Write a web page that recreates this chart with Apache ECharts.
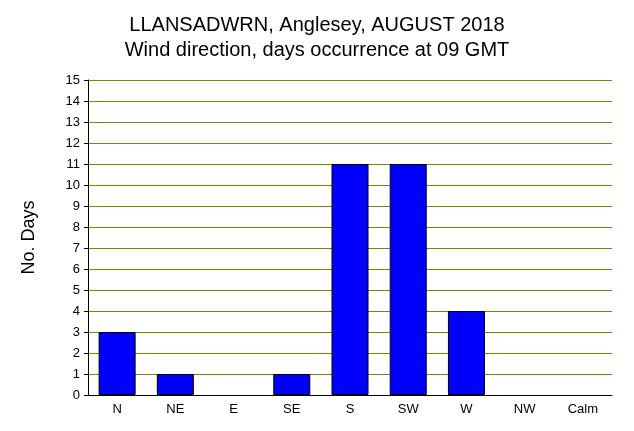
<!DOCTYPE html>
<html><head><meta charset="utf-8">
<script src="https://cdn.jsdelivr.net/npm/echarts@6/dist/echarts.min.js"></script>
<style>html,body{margin:0;padding:0;background:#fff}#c{width:634px;height:431px}</style>
</head><body><div id="c"></div>
<script>
const categories = ['N','NE','E','SE','S','SW','W','NW','Calm'];
const days = [3,1,0,1,11,11,4,0,0];
const titleLines = ['LLANSADWRN, Anglesey, AUGUST 2018','Wind direction, days occurrence at 09 GMT'];
const chart = echarts.init(document.getElementById('c'));
chart.setOption({
  animation:false,
  backgroundColor:'#fff',
  title:{text:titleLines.join('\n'),left:'center',top:8,
    textStyle:{fontFamily:'Liberation Sans',fontSize:20,fontWeight:'normal',color:'#000',lineHeight:25}},
  grid:{left:88,right:22,top:80,bottom:36},
  xAxis:{type:'category',data:categories,
    axisLine:{lineStyle:{color:'#000'}},axisTick:{show:false},
    axisLabel:{color:'#000',fontFamily:'Liberation Sans',fontSize:13,margin:8}},
  yAxis:{type:'value',min:0,max:15,interval:1,
    name:'No. Days',nameLocation:'middle',nameGap:50,nameRotate:90,
    nameTextStyle:{fontFamily:'Liberation Sans',fontSize:18,color:'#000'},
    axisLine:{show:true,lineStyle:{color:'#000'}},axisTick:{show:true,length:4,lineStyle:{color:'#000'}},
    axisLabel:{color:'#000',fontFamily:'Liberation Sans',fontSize:13,margin:8},
    splitLine:{lineStyle:{color:'#5f9400',width:1}}},
  series:[{type:'bar',data:days.map(v=>v===0?'-':v),barWidth:37,
    itemStyle:{color:'#0000ff',borderColor:'#000',borderWidth:1}}]
});
</script></body></html>
